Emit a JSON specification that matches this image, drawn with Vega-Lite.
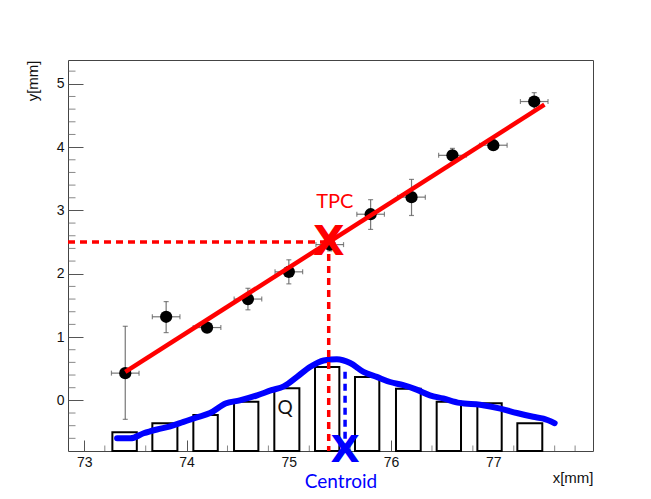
{
  "$schema": "https://vega.github.io/schema/vega-lite/v6.json",
  "width": 525,
  "height": 391,
  "autosize": "none",
  "padding": {"left": 68, "top": 60, "right": 58, "bottom": 48},
  "background": "white",
  "config": {
    "view": {"stroke": "#444", "strokeWidth": 1},
    "axis": {"domain": false, "grid": false, "labelFont": "Liberation Sans", "labelFontSize": 14, "labelColor": "#111", "titleFont": "Liberation Sans", "titleFontSize": 15, "titleFontWeight": "normal", "titleColor": "#111", "labelOverlap": false}
  },
  "datasets": {
    "xminor": [{"v": 73.2}, {"v": 73.4}, {"v": 73.6}, {"v": 73.8}, {"v": 74.2}, {"v": 74.4}, {"v": 74.6}, {"v": 74.8}, {"v": 75.2}, {"v": 75.4}, {"v": 75.6}, {"v": 75.8}, {"v": 76.2}, {"v": 76.4}, {"v": 76.6}, {"v": 76.8}, {"v": 77.2}, {"v": 77.4}, {"v": 77.6}, {"v": 77.8}],
    "yminor": [{"v": -0.6}, {"v": -0.4}, {"v": -0.2}, {"v": 0.2}, {"v": 0.4}, {"v": 0.6}, {"v": 0.8}, {"v": 1.2}, {"v": 1.4}, {"v": 1.6}, {"v": 1.8}, {"v": 2.2}, {"v": 2.4}, {"v": 2.6}, {"v": 2.8}, {"v": 3.2}, {"v": 3.4}, {"v": 3.6}, {"v": 3.8}, {"v": 4.2}, {"v": 4.4}, {"v": 4.6}, {"v": 4.8}, {"v": 5.2}],
    "pts": [
      {"x": 73.4, "y": 0.43, "ylo": -0.30, "yhi": 1.17, "xlo": 73.265, "xhi": 73.535},
      {"x": 73.8, "y": 1.32, "ylo": 1.07, "yhi": 1.56, "xlo": 73.665, "xhi": 73.935},
      {"x": 74.2, "y": 1.15, "ylo": 1.09, "yhi": 1.21, "xlo": 74.065, "xhi": 74.335},
      {"x": 74.6, "y": 1.60, "ylo": 1.43, "yhi": 1.77, "xlo": 74.465, "xhi": 74.735},
      {"x": 75.0, "y": 2.03, "ylo": 1.84, "yhi": 2.22, "xlo": 74.865, "xhi": 75.135},
      {"x": 75.4, "y": 2.46, "ylo": 2.36, "yhi": 2.56, "xlo": 75.265, "xhi": 75.535},
      {"x": 75.8, "y": 2.94, "ylo": 2.70, "yhi": 3.17, "xlo": 75.665, "xhi": 75.935},
      {"x": 76.2, "y": 3.21, "ylo": 2.92, "yhi": 3.49, "xlo": 76.065, "xhi": 76.335},
      {"x": 76.6, "y": 3.87, "ylo": 3.76, "yhi": 3.98, "xlo": 76.465, "xhi": 76.735},
      {"x": 77.0, "y": 4.03, "ylo": 3.96, "yhi": 4.10, "xlo": 76.865, "xhi": 77.135},
      {"x": 77.4, "y": 4.72, "ylo": 4.58, "yhi": 4.86, "xlo": 77.265, "xhi": 77.535}
    ],
    "bars": [
      {"lo": 73.274, "hi": 73.513, "q": -0.505},
      {"lo": 73.665, "hi": 73.910, "q": -0.363},
      {"lo": 74.066, "hi": 74.305, "q": -0.231},
      {"lo": 74.464, "hi": 74.702, "q": -0.022},
      {"lo": 74.858, "hi": 75.103, "q": 0.19},
      {"lo": 75.256, "hi": 75.494, "q": 0.525},
      {"lo": 75.647, "hi": 75.885, "q": 0.368},
      {"lo": 76.048, "hi": 76.290, "q": 0.185},
      {"lo": 76.446, "hi": 76.684, "q": -0.022},
      {"lo": 76.844, "hi": 77.082, "q": -0.047},
      {"lo": 77.235, "hi": 77.479, "q": -0.363}
    ],
    "curve": [
      {"x": 73.32, "y": -0.60}, {"x": 73.45, "y": -0.60}, {"x": 73.58, "y": -0.52}, {"x": 73.71, "y": -0.46},
      {"x": 73.84, "y": -0.41}, {"x": 73.97, "y": -0.34}, {"x": 74.10, "y": -0.27}, {"x": 74.23, "y": -0.20},
      {"x": 74.38, "y": -0.05}, {"x": 74.52, "y": 0.00}, {"x": 74.69, "y": 0.08}, {"x": 74.83, "y": 0.16},
      {"x": 74.95, "y": 0.22}, {"x": 75.08, "y": 0.37}, {"x": 75.21, "y": 0.53}, {"x": 75.34, "y": 0.63},
      {"x": 75.47, "y": 0.65}, {"x": 75.60, "y": 0.59}, {"x": 75.73, "y": 0.45}, {"x": 75.86, "y": 0.37},
      {"x": 75.99, "y": 0.29}, {"x": 76.12, "y": 0.24}, {"x": 76.25, "y": 0.17}, {"x": 76.38, "y": 0.08},
      {"x": 76.51, "y": 0.03}, {"x": 76.67, "y": -0.04}, {"x": 76.87, "y": -0.07}, {"x": 77.07, "y": -0.13},
      {"x": 77.23, "y": -0.20}, {"x": 77.39, "y": -0.26}, {"x": 77.49, "y": -0.29}, {"x": 77.60, "y": -0.36}
    ],
    "fit": [{"x": 73.4, "y": 0.45}, {"x": 77.5, "y": 4.67}],
    "redh": [{"x": 72.84, "x2": 75.39, "y": 2.5}],
    "redv": [{"x": 75.39, "y": 2.5, "y2": -0.8}],
    "bluev": [{"x": 75.55, "y": 0.45, "y2": -0.8}],
    "tpcx": [{"x": 75.39, "y": 2.5, "t": "X"}],
    "cenx": [{"x": 75.55, "y": -0.785, "t": "X"}],
    "tpc": [{"x": 75.45, "y": 3.14, "t": "TPC"}],
    "cen": [{"x": 75.51, "y": -1.286, "t": "Centroid"}],
    "q": [{"x": 74.963, "y": -0.126, "t": "Q"}]
  },
  "layer": [
    {
      "data": {"name": "xminor"},
      "mark": {"type": "tick", "orient": "vertical", "size": 5.5, "thickness": 1, "color": "#555", "yOffset": -2.75},
      "encoding": {
        "x": {"field": "v", "type": "quantitative", "scale": {"domain": [72.84, 77.975], "nice": false, "zero": false}},
        "y": {"datum": -0.8, "type": "quantitative", "scale": {"domain": [-0.8, 5.376], "nice": false, "zero": false}}
      }
    },
    {
      "data": {"name": "yminor"},
      "mark": {"type": "tick", "orient": "horizontal", "size": 7.5, "thickness": 1, "color": "#555", "xOffset": 3.75},
      "encoding": {
        "x": {"datum": 72.84, "type": "quantitative", "scale": {"domain": [72.84, 77.975], "nice": false, "zero": false}},
        "y": {"field": "v", "type": "quantitative", "scale": {"domain": [-0.8, 5.376], "nice": false, "zero": false}}
      }
    },
    {
      "data": {"name": "bars"},
      "mark": {"type": "rect", "fill": "white", "stroke": "black", "strokeWidth": 2},
      "encoding": {
        "x": {"field": "lo", "type": "quantitative", "scale": {"domain": [72.84, 77.975], "nice": false, "zero": false},
          "axis": {"values": [73, 74, 75, 76, 77],
            "ticks": true, "tickSize": -11, "tickColor": "#555", "tickWidth": 1, "grid": false,
            "format": "d", "labelPadding": 15, "labelOverlap": false, "labelFlush": false, "labelFontSize": 14, "labelFont": "Liberation Sans",
            "title": "x[mm]", "titleX": 525, "titleY": 26, "titleAlign": "right", "titleBaseline": "middle"}},
        "x2": {"field": "hi"},
        "y": {"field": "q", "type": "quantitative", "scale": {"domain": [-0.8, 5.376], "nice": false, "zero": false},
          "axis": {"values": [0, 1, 2, 3, 4, 5],
            "ticks": true, "tickSize": -15, "tickColor": "#555", "tickWidth": 1, "grid": false,
            "format": "d", "labelPadding": 19, "labelOverlap": false, "labelFlush": false, "labelFontSize": 14, "labelFont": "Liberation Sans",
            "title": "y[mm]", "titleX": -35.5, "titleY": 0, "titleAngle": -90, "titleAlign": "right", "titleBaseline": "middle"}},
        "y2": {"datum": -0.8}
      }
    },
    {
      "data": {"name": "q"},
      "mark": {"type": "text", "font": "Lato", "fontSize": 19, "color": "#111", "baseline": "middle", "align": "center"},
      "encoding": {
        "x": {"field": "x", "type": "quantitative", "scale": {"domain": [72.84, 77.975], "nice": false, "zero": false}},
        "y": {"field": "y", "type": "quantitative", "scale": {"domain": [-0.8, 5.376], "nice": false, "zero": false}},
        "text": {"field": "t"}
      }
    },
    {
      "data": {"name": "curve"},
      "mark": {"type": "line", "color": "#0000ff", "strokeWidth": 6, "strokeCap": "round", "strokeJoin": "round", "interpolate": "monotone"},
      "encoding": {
        "x": {"field": "x", "type": "quantitative", "scale": {"domain": [72.84, 77.975], "nice": false, "zero": false}},
        "y": {"field": "y", "type": "quantitative", "scale": {"domain": [-0.8, 5.376], "nice": false, "zero": false}}
      }
    },
    {
      "data": {"name": "redh"},
      "mark": {"type": "rule", "color": "#ff0000", "strokeWidth": 3.5, "strokeDash": [7, 5]},
      "encoding": {
        "x": {"field": "x", "type": "quantitative", "scale": {"domain": [72.84, 77.975], "nice": false, "zero": false}},
        "x2": {"field": "x2"},
        "y": {"field": "y", "type": "quantitative", "scale": {"domain": [-0.8, 5.376], "nice": false, "zero": false}}
      }
    },
    {
      "data": {"name": "redv"},
      "mark": {"type": "rule", "color": "#ff0000", "strokeWidth": 3.5, "strokeDash": [7, 5]},
      "encoding": {
        "x": {"field": "x", "type": "quantitative", "scale": {"domain": [72.84, 77.975], "nice": false, "zero": false}},
        "y": {"field": "y", "type": "quantitative", "scale": {"domain": [-0.8, 5.376], "nice": false, "zero": false}},
        "y2": {"field": "y2"}
      }
    },
    {
      "data": {"name": "bluev"},
      "mark": {"type": "rule", "color": "#0000ff", "strokeWidth": 3.5, "strokeDash": [7, 5]},
      "encoding": {
        "x": {"field": "x", "type": "quantitative", "scale": {"domain": [72.84, 77.975], "nice": false, "zero": false}},
        "y": {"field": "y", "type": "quantitative", "scale": {"domain": [-0.8, 5.376], "nice": false, "zero": false}},
        "y2": {"field": "y2"}
      }
    },
    {
      "data": {"name": "pts"},
      "mark": {"type": "rule", "color": "#777", "strokeWidth": 1.2},
      "encoding": {
        "x": {"field": "x", "type": "quantitative", "scale": {"domain": [72.84, 77.975], "nice": false, "zero": false}},
        "y": {"field": "ylo", "type": "quantitative", "scale": {"domain": [-0.8, 5.376], "nice": false, "zero": false}},
        "y2": {"field": "yhi"}
      }
    },
    {
      "data": {"name": "pts"},
      "mark": {"type": "rule", "color": "#777", "strokeWidth": 1.2},
      "encoding": {
        "x": {"field": "xlo", "type": "quantitative", "scale": {"domain": [72.84, 77.975], "nice": false, "zero": false}},
        "x2": {"field": "xhi"},
        "y": {"field": "y", "type": "quantitative", "scale": {"domain": [-0.8, 5.376], "nice": false, "zero": false}}
      }
    },
    {
      "data": {"name": "pts"},
      "mark": {"type": "tick", "color": "#555", "thickness": 1.2, "size": 5, "orient": "vertical"},
      "encoding": {
        "x": {"field": "xlo", "type": "quantitative", "scale": {"domain": [72.84, 77.975], "nice": false, "zero": false}},
        "y": {"field": "y", "type": "quantitative", "scale": {"domain": [-0.8, 5.376], "nice": false, "zero": false}}
      }
    },
    {
      "data": {"name": "pts"},
      "mark": {"type": "tick", "color": "#555", "thickness": 1.2, "size": 5, "orient": "vertical"},
      "encoding": {
        "x": {"field": "xhi", "type": "quantitative", "scale": {"domain": [72.84, 77.975], "nice": false, "zero": false}},
        "y": {"field": "y", "type": "quantitative", "scale": {"domain": [-0.8, 5.376], "nice": false, "zero": false}}
      }
    },
    {
      "data": {"name": "pts"},
      "mark": {"type": "tick", "color": "#555", "thickness": 1.2, "size": 5, "orient": "horizontal"},
      "encoding": {
        "x": {"field": "x", "type": "quantitative", "scale": {"domain": [72.84, 77.975], "nice": false, "zero": false}},
        "y": {"field": "ylo", "type": "quantitative", "scale": {"domain": [-0.8, 5.376], "nice": false, "zero": false}}
      }
    },
    {
      "data": {"name": "pts"},
      "mark": {"type": "tick", "color": "#555", "thickness": 1.2, "size": 5, "orient": "horizontal"},
      "encoding": {
        "x": {"field": "x", "type": "quantitative", "scale": {"domain": [72.84, 77.975], "nice": false, "zero": false}},
        "y": {"field": "yhi", "type": "quantitative", "scale": {"domain": [-0.8, 5.376], "nice": false, "zero": false}}
      }
    },
    {
      "data": {"name": "pts"},
      "mark": {"type": "point", "filled": true, "color": "black", "size": 150, "opacity": 1, "shape": "circle"},
      "encoding": {
        "x": {"field": "x", "type": "quantitative", "scale": {"domain": [72.84, 77.975], "nice": false, "zero": false}},
        "y": {"field": "y", "type": "quantitative", "scale": {"domain": [-0.8, 5.376], "nice": false, "zero": false}}
      }
    },
    {
      "data": {"name": "fit"},
      "mark": {"type": "line", "color": "#ff0000", "strokeWidth": 4.5},
      "encoding": {
        "x": {"field": "x", "type": "quantitative", "scale": {"domain": [72.84, 77.975], "nice": false, "zero": false}},
        "y": {"field": "y", "type": "quantitative", "scale": {"domain": [-0.8, 5.376], "nice": false, "zero": false}}
      }
    },
    {
      "data": {"name": "tpcx"},
      "mark": {"type": "text", "font": "DejaVu Sans", "fontWeight": "bold", "fontSize": 41, "color": "#ff0000", "baseline": "middle", "align": "center", "dy": 1},
      "encoding": {
        "x": {"field": "x", "type": "quantitative", "scale": {"domain": [72.84, 77.975], "nice": false, "zero": false}},
        "y": {"field": "y", "type": "quantitative", "scale": {"domain": [-0.8, 5.376], "nice": false, "zero": false}},
        "text": {"field": "t"}
      }
    },
    {
      "data": {"name": "cenx"},
      "mark": {"type": "text", "font": "DejaVu Sans", "fontWeight": "bold", "fontSize": 38, "color": "#0000ff", "baseline": "middle", "align": "center", "dy": 1},
      "encoding": {
        "x": {"field": "x", "type": "quantitative", "scale": {"domain": [72.84, 77.975], "nice": false, "zero": false}},
        "y": {"field": "y", "type": "quantitative", "scale": {"domain": [-0.8, 5.376], "nice": false, "zero": false}},
        "text": {"field": "t"}
      }
    },
    {
      "data": {"name": "tpc"},
      "mark": {"type": "text", "font": "Lato", "fontSize": 20, "color": "#ff0000", "baseline": "middle", "align": "center"},
      "encoding": {
        "x": {"field": "x", "type": "quantitative", "scale": {"domain": [72.84, 77.975], "nice": false, "zero": false}},
        "y": {"field": "y", "type": "quantitative", "scale": {"domain": [-0.8, 5.376], "nice": false, "zero": false}},
        "text": {"field": "t"}
      }
    },
    {
      "data": {"name": "cen"},
      "mark": {"type": "text", "font": "Lato", "fontSize": 19, "color": "#0000ff", "baseline": "middle", "align": "center"},
      "encoding": {
        "x": {"field": "x", "type": "quantitative", "scale": {"domain": [72.84, 77.975], "nice": false, "zero": false}},
        "y": {"field": "y", "type": "quantitative", "scale": {"domain": [-0.8, 5.376], "nice": false, "zero": false}},
        "text": {"field": "t"}
      }
    }
  ]
}
